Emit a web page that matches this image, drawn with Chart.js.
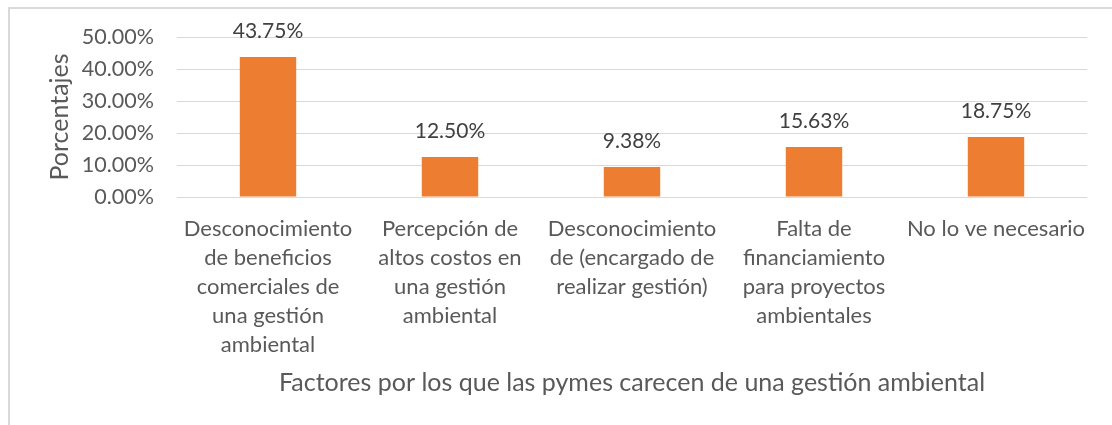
<!DOCTYPE html>
<html>
<head>
<meta charset="utf-8">
<script src="https://cdn.jsdelivr.net/npm/chart.js@4.4.1/dist/chart.umd.min.js"></script>
<style>
    html, body { margin: 0; padding: 0; background: #fff; }
    #wrap { position: relative; width: 1112px; height: 425px; }
    #frame {
        position: absolute; left: 8px; top: 7px; right: 0; bottom: 0;
        border-left: 2px solid #d9d9d9; border-top: 2px solid #d9d9d9;
        pointer-events: none;
    }
</style>
</head>
<body>
<div id="wrap">
    <canvas id="chart" width="1112" height="425"></canvas>
    <div id="frame"></div>
</div>
<script>
// chart data
const categories = [
    ['Desconocimiento', 'de beneficios', 'comerciales de', 'una gestión', 'ambiental'],
    ['Percepción de', 'altos costos en', 'una gestión', 'ambiental'],
    ['Desconocimiento', 'de (encargado de', 'realizar gestión)'],
    ['Falta de', 'financiamiento', 'para proyectos', 'ambientales'],
    ['No lo ve necesario']
];
const percentages = [43.75, 12.50, 9.38, 15.63, 18.75];
const yTicks = [0, 10, 20, 30, 40, 50];
const yTitle = 'Porcentajes';
const xTitle = 'Factores por los que las pymes carecen de una gestión ambiental';

const FONT = 'Lato, "Open Sans", sans-serif';

// draws the value above each bar
const valueLabels = {
    id: 'valueLabels',
    afterDatasetsDraw(chart) {
        const ctx = chart.ctx;
        const meta = chart.getDatasetMeta(0);
        ctx.save();
        ctx.font = '21px ' + FONT;
        ctx.fillStyle = '#404040';
        ctx.textAlign = 'center';
        ctx.textBaseline = 'middle';
        meta.data.forEach((bar, i) => {
            ctx.fillText(percentages[i].toFixed(2) + '%', bar.x, bar.y - 26);
        });
        ctx.restore();
    }
};

new Chart(document.getElementById('chart'), {
    type: 'bar',
    data: {
        labels: categories,
        datasets: [{
            data: percentages,
            backgroundColor: '#ED7D31',
            categoryPercentage: 1,
            barPercentage: 0.31
        }]
    },
    options: {
        responsive: false,
        animation: false,
        layout: { padding: { top: 37, right: 25, left: 0, bottom: 0 } },
        plugins: { legend: { display: false }, tooltip: { enabled: false } },
        scales: {
            x: {
                grid: { display: false, drawTicks: false },
                border: { display: false },
                ticks: {
                    color: '#595959',
                    font: { family: FONT, size: 22, lineHeight: 1.32 },
                    padding: 17,
                    maxRotation: 0,
                    autoSkip: false
                },
                title: {
                    display: true,
                    text: xTitle,
                    color: '#595959',
                    font: { family: FONT, size: 25 },
                    padding: { top: 0, bottom: 27 }
                },
                afterFit(scale) { scale.height = 228; }
            },
            y: {
                min: 0,
                max: 50,
                afterBuildTicks(scale) { scale.ticks = yTicks.map(v => ({ value: v })); },
                grid: { color: '#d9d9d9', lineWidth: 1, drawTicks: false },
                border: { display: false },
                ticks: {
                    color: '#595959',
                    font: { family: FONT, size: 21.5 },
                    padding: 23,
                    callback: v => v.toFixed(2) + '%'
                },
                title: {
                    display: true,
                    text: yTitle,
                    color: '#595959',
                    font: { family: FONT, size: 25 },
                    padding: { top: 45, bottom: 0 }
                },
                afterFit(scale) { scale.width = 177; }
            }
        }
    },
    plugins: [valueLabels]
});
</script>
</body>
</html>
